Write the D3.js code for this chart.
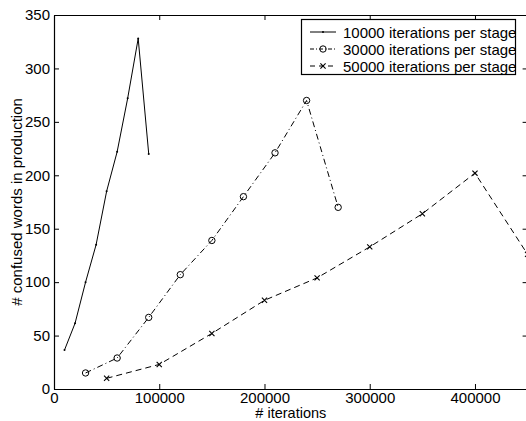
<!DOCTYPE html>
<html><head><meta charset="utf-8">
<script src="https://cdn.jsdelivr.net/npm/d3@7"></script>
<style>body{margin:0;background:#fff}svg{display:block}text{font-family:"Liberation Sans",Arial,sans-serif;fill:#000}</style>
</head><body><svg id="c" width="526" height="421"></svg>
<script>
const iter1 = [10000,20000,30000,40000,50000,60000,70000,80000,90000];
const vals1 = [36.5,61.5,100,135,185,222,272,328,220];
const iter2 = [30000,60000,90000,120000,150000,180000,210000,240000,270000];
const vals2 = [15,29,67,107,139,180,221,270,170];
const iter3 = [50000,100000,150000,200000,250000,300000,350000,400000,450000];
const vals3 = [10,23,52,83,104,133,164,202,126];
const seriesNames = ["10000 iterations per stage","30000 iterations per stage","50000 iterations per stage"];
const xTicks = [0,100000,200000,300000,400000];
const yTicks = [0,50,100,150,200,250,300,350];
const xLabel = "# iterations";
const yLabel = "# confused words in production";

const svg = d3.select("#c");
const L=54, R=527.6, T=15, B=389;
const x = d3.scaleLinear().domain([0,450000]).range([L,R]);
const y = d3.scaleLinear().domain([0,350]).range([B,T]);
const fs = 15;

svg.append("clipPath").attr("id","clip").append("rect").attr("x",L).attr("y",T).attr("width",R-L).attr("height",B-T);

const gB = svg.append("g").attr("transform",`translate(0,${B})`)
  .call(d3.axisBottom(x).tickValues(xTicks).tickFormat(d3.format("d")).tickSizeInner(-5).tickSizeOuter(0).tickPadding(3));
const gT = svg.append("g").attr("transform",`translate(0,${T})`)
  .call(d3.axisTop(x).tickValues(xTicks).tickFormat("").tickSizeInner(-5).tickSizeOuter(0));
const gL = svg.append("g").attr("transform",`translate(${L},0)`)
  .call(d3.axisLeft(y).tickValues(yTicks).tickSizeInner(-5).tickSizeOuter(0).tickPadding(4));
const gR = svg.append("g").attr("transform",`translate(${R},0)`)
  .call(d3.axisRight(y).tickValues(yTicks).tickFormat("").tickSizeInner(-5).tickSizeOuter(0));
[gB,gT,gL,gR].forEach(g=>{
  g.selectAll("path.domain").attr("stroke","#000").attr("stroke-width",1.2);
  g.selectAll(".tick line").attr("stroke","#000").attr("stroke-width",1);
  g.selectAll("text").attr("font-size",fs).attr("font-family","Liberation Sans, Arial, sans-serif").attr("fill","#000");
});
gB.selectAll("text").attr("dy","0.71em");

svg.append("text").attr("x",(L+R)/2).attr("y",418).attr("text-anchor","middle").attr("font-size",14.5).text(xLabel);
svg.append("text").attr("transform",`translate(22,${(T+B)/2}) rotate(-90)`).attr("text-anchor","middle").attr("font-size",fs).text(yLabel);

const plot = svg.append("g").attr("clip-path","url(#clip)");
const line = d3.line().x(d=>x(d[0])).y(d=>y(d[1]));
const s1 = iter1.map((v,i)=>[v,vals1[i]]);
const s2 = iter2.map((v,i)=>[v,vals2[i]]);
const s3 = iter3.map((v,i)=>[v,vals3[i]]);
const dashes = [null,"6,3,1,3","6,4"];
[s1,s2,s3].forEach((s,k)=>{
  plot.append("path").datum(s).attr("d",line).attr("fill","none").attr("stroke","#000").attr("stroke-width",1)
    .attr("stroke-dasharray",dashes[k]);
});
function marker(g,k,cx,cy){
  if(k===0){ g.append("circle").attr("cx",cx).attr("cy",cy).attr("r",1).attr("fill","#000"); }
  else if(k===1){ g.append("circle").attr("cx",cx).attr("cy",cy).attr("r",3.2).attr("fill","none").attr("stroke","#000").attr("stroke-width",1); }
  else { const h=2.6; g.append("path").attr("d",`M${cx-h},${cy-h}L${cx+h},${cy+h}M${cx-h},${cy+h}L${cx+h},${cy-h}`).attr("stroke","#000").attr("stroke-width",1.1); }
}
[s1,s2,s3].forEach((s,k)=>s.forEach(d=>marker(plot,k,x(d[0]),y(d[1]))));

const lg = svg.append("g");
lg.append("rect").attr("x",301.5).attr("y",19.5).attr("width",214).attr("height",55).attr("fill","#fff").attr("stroke","#000").attr("stroke-width",1.2);
const rows=[32,49,66];
seriesNames.forEach((n,k)=>{
  lg.append("line").attr("x1",310).attr("x2",336).attr("y1",rows[k]).attr("y2",rows[k]).attr("stroke","#000").attr("stroke-width",1).attr("stroke-dasharray",dashes[k]===null?null:(k===1?"4,2,1,2":"5,4"));
  marker(lg,k,323,rows[k]);
  lg.append("text").attr("x",343).attr("y",rows[k]+5.5).attr("font-size",fs).text(n);
});
</script></body></html>
